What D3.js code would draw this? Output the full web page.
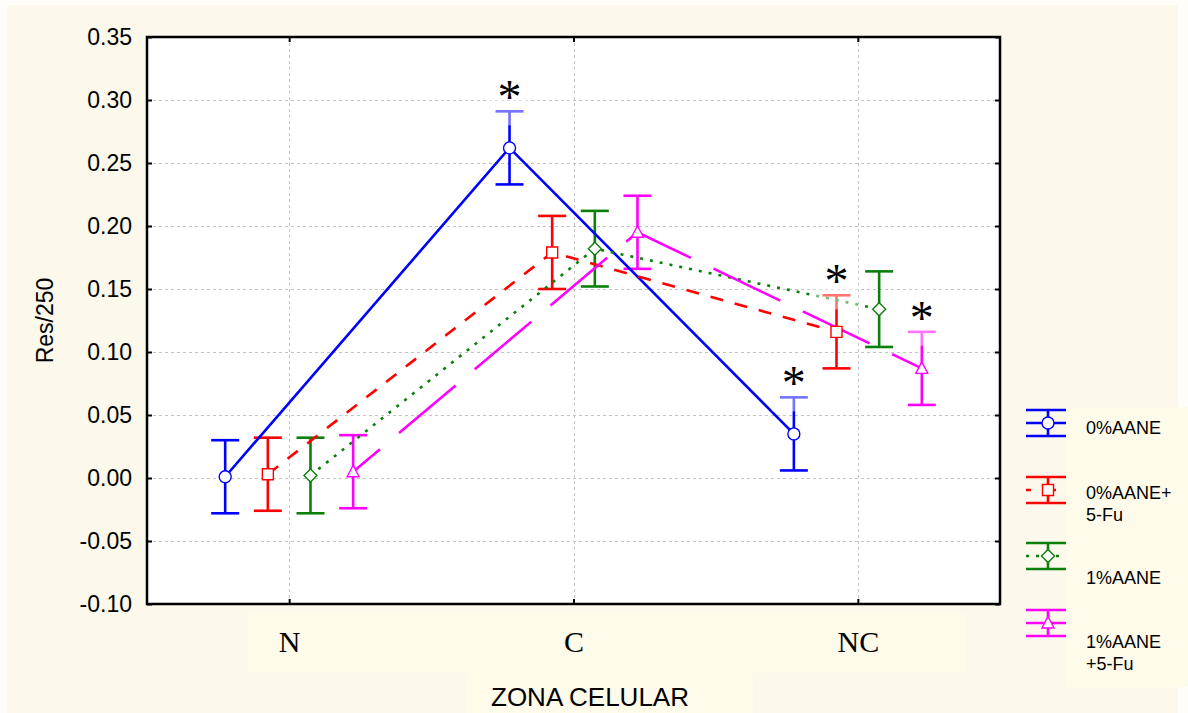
<!DOCTYPE html>
<html>
<head>
<meta charset="utf-8">
<script src="https://cdn.jsdelivr.net/npm/d3@7"></script>
<style>
  html, body { margin: 0; padding: 0; background: #fefdf7; }
  svg { display: block; font-family: "Liberation Sans", Arial, sans-serif; }
</style>
</head>
<body>
<div id="chart"></div>
<script>
// data
var categories = ["N", "C", "NC"];
var yTicks = [-0.10, -0.05, 0.00, 0.05, 0.10, 0.15, 0.20, 0.25, 0.30, 0.35];
var seriesLabels = [["0%AANE"], ["0%AANE+", "5-Fu"], ["1%AANE"], ["1%AANE", "+5-Fu"]];

var mean0 = [0.001, 0.262, 0.035];     // 0%AANE
var mean0Fu = [0.003, 0.179, 0.116];   // 0%AANE+5-Fu
var mean1 = [0.002, 0.182, 0.134];     // 1%AANE
var mean1Fu = [0.005, 0.195, 0.087];   // 1%AANE+5-Fu

var err0 = [0.029, 0.029, 0.029];
var err0Fu = [0.029, 0.029, 0.029];
var err1 = [0.030, 0.030, 0.030];
var err1Fu = [0.029, 0.029, 0.029];

// significant points: [category index, series index]
var stars = [[1, 0], [2, 0], [2, 1], [2, 3]];

var svgWidth = 1188;
var svgHeight = 713;
var plot = { left: 147, right: 1000, top: 37, bottom: 604 };

var colors = ["#0000ff", "#ff0000", "#0a800a", "#ff00ff"];
var dashes = [null, "13,12", "3,7", "74,25"];
var dashOffsets = [0, 0, 0, 39];
var markers = ["circle", "square", "diamond", "triangle"];
var offsets = [-0.225, -0.075, 0.075, 0.225];

var means = [mean0, mean0Fu, mean1, mean1Fu];
var errs = [err0, err0Fu, err1, err1Fu];

var series = means.map(function(m, i) {
  return {
    index: i,
    points: m.map(function(v, j) { return { cat: j, mean: v, err: errs[i][j], s: i }; })
  };
});

var svg = d3.select("#chart")
  .append("svg")
  .attr("width", svgWidth)
  .attr("height", svgHeight);

// page backgrounds
svg.append("rect").attr("x", 7).attr("y", 5).attr("width", 1171).attr("height", 708).attr("fill", "#fcf8ec");
svg.append("rect").attr("x", 248).attr("y", 613).attr("width", 717).attr("height", 60).attr("fill", "#fffbea");
svg.append("rect").attr("x", 467).attr("y", 673).attr("width", 286).attr("height", 40).attr("fill", "#fffbea");

var x = d3.scaleLinear().domain([-0.5, 2.5]).range([plot.left, plot.right]);
var y = d3.scaleLinear().domain([-0.10, 0.35]).range([plot.bottom, plot.top]);

svg.append("rect")
  .attr("x", plot.left).attr("y", plot.top)
  .attr("width", plot.right - plot.left).attr("height", plot.bottom - plot.top)
  .attr("fill", "#ffffff");

// grid
var grid = svg.append("g").attr("stroke", "#c4c4c4").attr("stroke-width", 1).attr("stroke-dasharray", "3,3");
grid.selectAll("line.gy")
  .data(yTicks.filter(function(t) { return t > -0.1 && t < 0.35; }))
  .enter().append("line")
  .attr("x1", plot.left).attr("x2", plot.right)
  .attr("y1", function(d) { return Math.round(y(d)) + 0.5; })
  .attr("y2", function(d) { return Math.round(y(d)) + 0.5; });
grid.selectAll("line.gx")
  .data(categories)
  .enter().append("line")
  .attr("y1", plot.top).attr("y2", plot.bottom)
  .attr("x1", function(d, i) { return Math.round(x(i)) + 0.5; })
  .attr("x2", function(d, i) { return Math.round(x(i)) + 0.5; });

// axes
var catTick = d3.range(categories.length);

var leftAxis = d3.axisLeft(y).tickValues(yTicks).tickSize(-5).tickPadding(15)
  .tickFormat(function(d) { return d.toFixed(2); });
var gLeft = svg.append("g").attr("transform", "translate(" + plot.left + ",0)").call(leftAxis);
gLeft.select(".domain").remove();
gLeft.selectAll("line").attr("stroke", "#000").attr("stroke-width", 2);
gLeft.selectAll("text").attr("font-size", 23).attr("fill", "#000")
  .attr("font-family", "'Liberation Sans', Arial, sans-serif");

var gRight = svg.append("g").attr("transform", "translate(" + plot.right + ",0)")
  .call(d3.axisRight(y).tickValues(yTicks).tickSize(-5).tickFormat(""));
gRight.select(".domain").remove();
gRight.selectAll("line").attr("stroke", "#000").attr("stroke-width", 2);

var gTop = svg.append("g").attr("transform", "translate(0," + plot.top + ")")
  .call(d3.axisTop(x).tickValues(catTick).tickSize(-5).tickFormat(""));
gTop.select(".domain").remove();
gTop.selectAll("line").attr("stroke", "#000").attr("stroke-width", 2);

var gBottom = svg.append("g").attr("transform", "translate(0," + plot.bottom + ")")
  .call(d3.axisBottom(x).tickValues(catTick).tickSize(-5).tickPadding(27)
    .tickFormat(function(d) { return categories[d]; }));
gBottom.select(".domain").remove();
gBottom.selectAll("line").attr("stroke", "#000").attr("stroke-width", 2);
gBottom.selectAll("text").attr("font-size", 30).attr("fill", "#000")
  .attr("font-family", "'Liberation Serif', 'Times New Roman', serif");

// frame
svg.append("rect")
  .attr("x", plot.left).attr("y", plot.top)
  .attr("width", plot.right - plot.left).attr("height", plot.bottom - plot.top)
  .attr("fill", "none").attr("stroke", "#000").attr("stroke-width", 2.5);

// axis titles
svg.append("text")
  .attr("transform", "translate(53," + ((plot.top + plot.bottom) / 2) + ") rotate(-90)")
  .attr("text-anchor", "middle")
  .attr("font-size", 23)
  .text("Res/250");

svg.append("text")
  .attr("x", 590).attr("y", 706)
  .attr("text-anchor", "middle")
  .attr("font-size", 26)
  .text("ZONA CELULAR");

function px(p) { return x(p.cat + offsets[p.s]); }

function markerPath(type) {
  if (type === "circle") return d3.symbol(d3.symbolCircle, 113)();
  if (type === "square") return "M-5.5,-5.5h11v11h-11z";
  if (type === "diamond") return "M0,-6.5L6.5,0L0,6.5L-6.5,0Z";
  return "M0,-6.5L6,5L-6,5Z";
}

var plotG = svg.append("g");

// error bars
series.forEach(function(s) {
  var g = plotG.append("g").attr("stroke", colors[s.index]).attr("stroke-width", 2.6);
  g.selectAll("line.v").data(s.points).enter().append("line")
    .attr("x1", px).attr("x2", px)
    .attr("y1", function(d) { return y(d.mean + d.err); })
    .attr("y2", function(d) { return y(d.mean - d.err); });
  g.selectAll("line.top").data(s.points).enter().append("line")
    .attr("x1", function(d) { return px(d) - 14; }).attr("x2", function(d) { return px(d) + 14; })
    .attr("y1", function(d) { return y(d.mean + d.err); })
    .attr("y2", function(d) { return y(d.mean + d.err); });
  g.selectAll("line.bot").data(s.points).enter().append("line")
    .attr("x1", function(d) { return px(d) - 14; }).attr("x2", function(d) { return px(d) + 14; })
    .attr("y1", function(d) { return y(d.mean - d.err); })
    .attr("y2", function(d) { return y(d.mean - d.err); });
});

// lines
var line = d3.line().x(px).y(function(d) { return y(d.mean); });
series.forEach(function(s) {
  plotG.append("path")
    .datum(s.points)
    .attr("d", line)
    .attr("fill", "none")
    .attr("stroke", colors[s.index])
    .attr("stroke-width", 2.6)
    .attr("stroke-dasharray", dashes[s.index])
    .attr("stroke-dashoffset", dashOffsets[s.index]);
});

// markers
series.forEach(function(s) {
  plotG.selectAll(null).data(s.points).enter().append("path")
    .attr("d", markerPath(markers[s.index]))
    .attr("transform", function(d) { return "translate(" + px(d) + "," + y(d.mean) + ")"; })
    .attr("fill", "#fff")
    .attr("stroke", colors[s.index])
    .attr("stroke-width", 1.4);
});

// significance stars, with the half-transparent label box behind them
var starData = stars.map(function(st) {
  var p = series[st[1]].points[st[0]];
  return { x: px(p), y: y(p.mean + p.err) - 22 };
});
svg.selectAll("rect.starbox").data(starData).enter().append("rect")
  .attr("x", function(d) { return d.x - 22; })
  .attr("y", function(d) { return d.y - 20; })
  .attr("width", 44).attr("height", 56)
  .attr("fill", "#fff").attr("opacity", 0.45);
svg.selectAll("text.star").data(starData).enter().append("text")
  .attr("x", function(d) { return d.x; })
  .attr("y", function(d) { return d.y + 24; })
  .attr("text-anchor", "middle")
  .attr("font-family", "'Liberation Serif', 'Times New Roman', serif")
  .attr("font-size", 48)
  .text("*");

// legend
var legendY = [423, 490, 556, 623];
var legendLabelY = [434, 499, 584, 648];
svg.append("rect").attr("x", 1066).attr("y", 407).attr("width", 122).attr("height", 280).attr("fill", "#fffbea");

series.forEach(function(s, i) {
  var cy = legendY[i];
  var g = svg.append("g").attr("stroke", colors[i]).attr("stroke-width", 2.6);
  g.append("line").attr("x1", 1026).attr("x2", 1066).attr("y1", cy - 13).attr("y2", cy - 13);
  g.append("line").attr("x1", 1026).attr("x2", 1066).attr("y1", cy + 13).attr("y2", cy + 13);
  g.append("line").attr("x1", 1048).attr("x2", 1048).attr("y1", cy - 13).attr("y2", cy + 13);
  g.append("line").attr("x1", 1026).attr("x2", 1066).attr("y1", cy).attr("y2", cy)
    .attr("stroke-dasharray", dashes[i]).attr("stroke-dashoffset", i === 1 ? 8 : (i === 3 ? 30 : 0));
  svg.append("path")
    .attr("d", markerPath(markers[i]))
    .attr("transform", "translate(1048," + cy + ")")
    .attr("fill", "#fff").attr("stroke", colors[i]).attr("stroke-width", 1.4);
  svg.append("text")
    .attr("x", 1086).attr("y", legendLabelY[i])
    .attr("font-size", 18)
    .selectAll("tspan").data(seriesLabels[i]).enter().append("tspan")
    .attr("x", 1086)
    .attr("dy", function(d, k) { return k === 0 ? 0 : 22; })
    .text(function(d) { return d; });
});
</script>
</body>
</html>
